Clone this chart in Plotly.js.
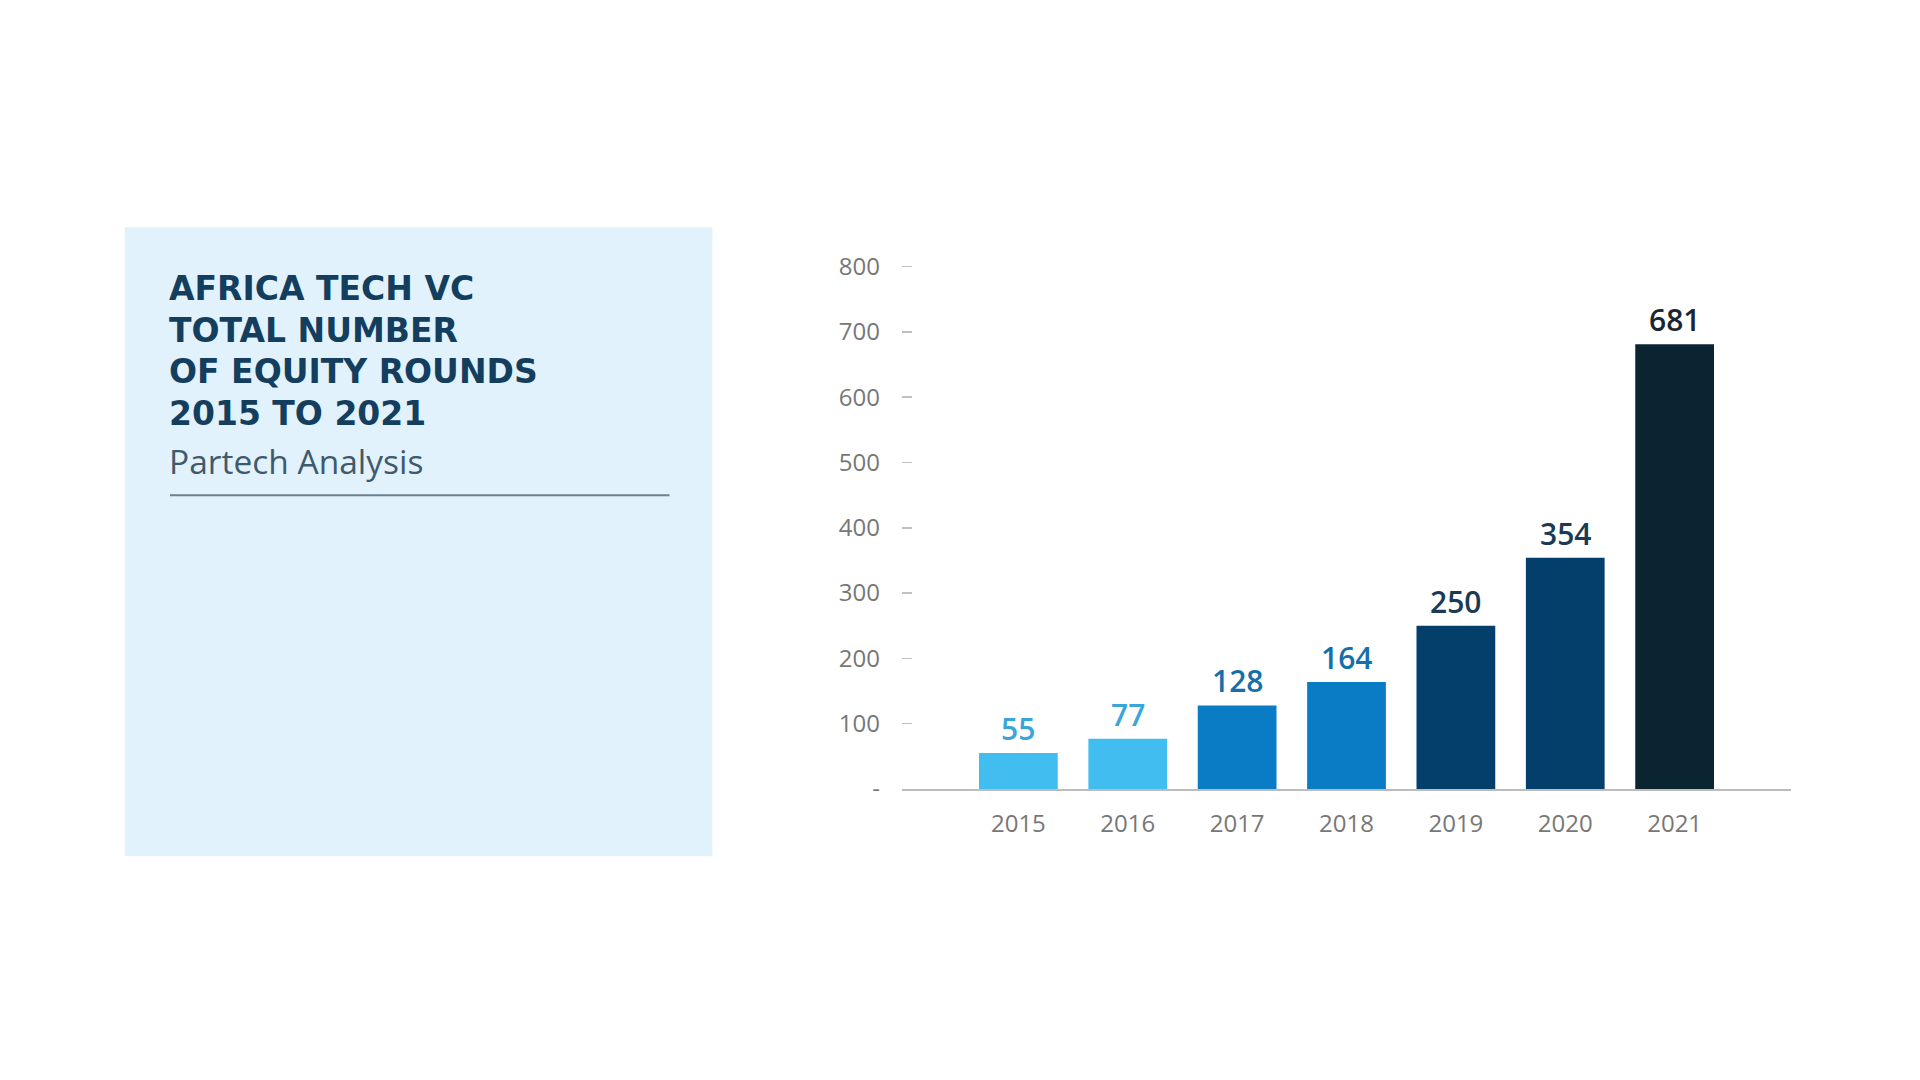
<!DOCTYPE html>
<html>
<head>
<meta charset="utf-8">
<script src="https://cdn.plot.ly/plotly-3.0.1.min.js"></script>
<style>
html,body{margin:0;padding:0;background:#ffffff;}
#chart{width:1920px;height:1080px;}
</style>
</head>
<body>
<div id="chart"></div>
<script>
const years = ["2015", "2016", "2017", "2018", "2019", "2020", "2021"];
const rounds = [55, 77, 128, 164, 250, 354, 681];
const barColors = ["#41bdef", "#41bdef", "#0a7cc5", "#0a7cc5", "#043f6b", "#043f6b", "#0b2431"];
const labelColors = ["#3aa5d8", "#3aa5d8", "#156fab", "#156fab", "#1b3a55", "#1b3a55", "#1a2631"];
const yTickVals = [0, 100, 200, 300, 400, 500, 600, 700, 800];
const yTickText = ["-", "100", "200", "300", "400", "500", "600", "700", "800"];
const titleLines = ["AFRICA TECH VC", "TOTAL NUMBER", "OF EQUITY ROUNDS", "2015 TO 2021"];
const subtitle = "Partech Analysis";

// pixel -> paper helpers (plot area: x 902..1791; value 800 at y 267, value 0 at y 789.5)
const YMAX = 810;
const PL = 902, PR = 1791, PB = 789.5;
const PT = PB - (PB - 267) * YMAX / 800;
const px = v => (v - PL) / (PR - PL);
const py = v => (PB - v) / (PB - PT);

const trace = {
  type: "bar",
  x: years,
  y: rounds,
  marker: {color: barColors, line: {width: 0}},
  hoverinfo: "x+y"
};

const annotations = years.map((yr, i) => ({
  x: i, y: rounds[i], xref: "x", yref: "y",
  text: String(rounds[i]),
  showarrow: false, yanchor: "bottom", yshift: 2,
  font: {family: "Open Sans, sans-serif", size: 30, color: labelColors[i], weight: 600}
}));

const titleY = [289, 330.8, 372.4, 414];
titleLines.forEach((line, i) => {
  annotations.push({
    xref: "paper", yref: "paper", x: px(167), y: py(titleY[i]), xanchor: "left", yanchor: "middle",
    align: "left", showarrow: false,
    text: line,
    font: {family: "DejaVu Sans, sans-serif", size: 33, color: "#143e5e", weight: 700}
  });
});
annotations.push({
  xref: "paper", yref: "paper", x: px(167), y: py(461), xanchor: "left", yanchor: "middle",
  align: "left", showarrow: false,
  text: subtitle,
  font: {family: "Open Sans, sans-serif", size: 33.5, color: "#3f5a6b", weight: 400}
});

const shapes = [
  {type: "rect", xref: "paper", yref: "paper", x0: px(124.8), x1: px(712.4), y0: py(227.7), y1: py(856.8),
   fillcolor: "#e2f2fc", line: {width: 0}, layer: "below"},
  {type: "line", xref: "paper", yref: "paper", x0: px(170), x1: px(669.5), y0: py(495.7), y1: py(495.7),
   line: {color: "#6d8190", width: 2}}
];

const layout = {
  width: 1920, height: 1080,
  margin: {l: PL, r: 1920 - PR, t: PT, b: 1080 - PB, pad: 0},
  paper_bgcolor: "#ffffff", plot_bgcolor: "rgba(0,0,0,0)",
  showlegend: false,
  bargap: 0.28,
  xaxis: {
    type: "category", range: [-1.064, 7.064],
    showline: true, linecolor: "#bcbcbc", linewidth: 2,
    ticks: "", showgrid: false, zeroline: false,
    tickfont: {family: "Open Sans, sans-serif", size: 24, color: "#777777"},
    ticklabelstandoff: 12, fixedrange: true
  },
  yaxis: {
    range: [0, YMAX], tickmode: "array", tickvals: yTickVals, ticktext: yTickText,
    ticks: "inside", ticklen: 10, tickwidth: 1.5, tickcolor: "#c0c0c0",
    showline: false, showgrid: false, zeroline: false,
    tickfont: {family: "Open Sans, sans-serif", size: 24, color: "#777777"},
    ticklabelstandoff: 21, fixedrange: true
  },
  shapes: shapes,
  annotations: annotations
};

Plotly.newPlot("chart", [trace], layout, {displayModeBar: false, staticPlot: true});
</script>
</body>
</html>
